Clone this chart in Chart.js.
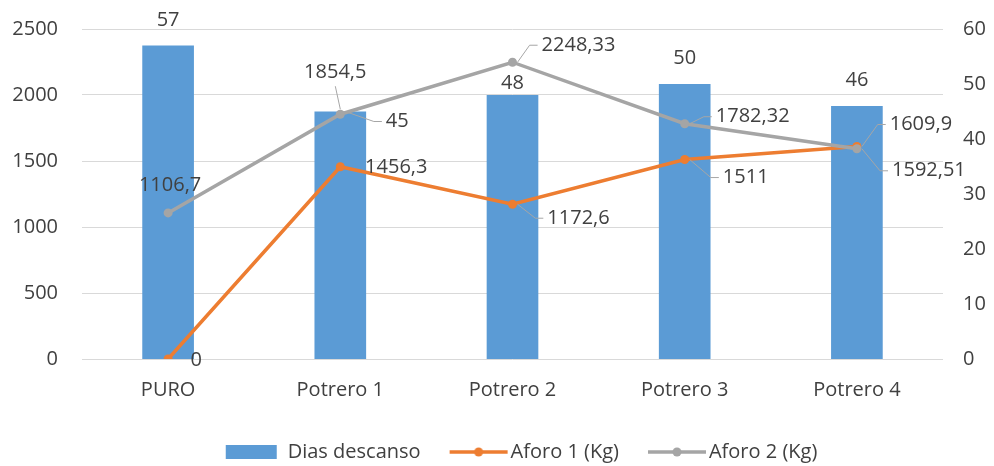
<!DOCTYPE html>
<html>
<head>
<meta charset="utf-8">
<script src="https://cdn.jsdelivr.net/npm/chart.js@4.4.0/dist/chart.umd.min.js"></script>
<style>
  html, body { margin: 0; padding: 0; background: #fff; overflow: hidden; }
  #wrap { width: 994px; height: 466px; }
</style>
</head>
<body>
<div id="wrap"><canvas id="chart"></canvas></div>
<script>
// data
const categories = ['PURO', 'Potrero 1', 'Potrero 2', 'Potrero 3', 'Potrero 4'];
const diasDescanso = [57, 45, 48, 50, 46];
const aforo1 = [0, 1456.3, 1172.6, 1511, 1609.9];
const aforo2 = [1106.7, 1854.5, 2248.33, 1782.32, 1592.51];
const leftTicks = [0, 500, 1000, 1500, 2000, 2500];
const rightTicks = [0, 10, 20, 30, 40, 50, 60];

const COLORS = { bar: '#5B9BD5', orange: '#ED7D31', grey: '#A5A5A5', text: '#404040', grid: '#D9D9D9', leader: '#A6A6A6' };
const FONT = { family: '"Open Sans", sans-serif', size: 20 };

// label offsets (dx, dy from the mark, leader line?) per dataset
const LABEL_POS = [
  [[0, -25, false], [57, 10, true], [0, -12, false], [0, -26, false], [0, -26, false]],
  [[28, 1, false], [56, 1, false], [66, 14, true], [61, 18, true], [64, -22, true]],
  [[2, -28, false], [-5, -42, true], [66, -17, true], [68, -7, true], [72, 22, true]],
];

function fmt(v) { return String(v).replace('.', ','); }

// legend icons: slot is 70px wide, image overhangs 8px each side so the
// mark can sit close to the text like Excel does
const SLOT = 70, OVER = 8;
function icon(kind, color) {
  const c = document.createElement('canvas');
  c.width = SLOT + OVER * 2; c.height = 16;
  const g = c.getContext('2d');
  if (kind === 'bar') {
    g.fillStyle = color;
    g.fillRect(OVER + SLOT - 52, 1, 51, 14);
  } else {
    const x0 = OVER + SLOT - 51, x1 = OVER + SLOT + 7;
    g.strokeStyle = color; g.lineWidth = 3.5;
    g.beginPath(); g.moveTo(x0, 8); g.lineTo(x1, 8); g.stroke();
    g.fillStyle = color;
    g.beginPath(); g.arc((x0 + x1) / 2, 8, 4.5, 0, Math.PI * 2); g.fill();
  }
  return c;
}
const LEGEND_ICONS = [icon('bar', COLORS.bar), icon('line', COLORS.orange), icon('line', COLORS.grey)];

const valueLabels = {
  id: 'valueLabels',
  afterDatasetsDraw(chart) {
    const ctx = chart.ctx;
    ctx.save();
    ctx.font = `${FONT.size}px ${FONT.family}`;
    ctx.textAlign = 'center';
    ctx.textBaseline = 'middle';
    chart.data.datasets.forEach((ds, i) => {
      const meta = chart.getDatasetMeta(i);
      meta.data.forEach((el, j) => {
        const [dx, dy, leader] = LABEL_POS[i][j];
        const text = fmt(ds.data[j]);
        const cx = el.x + dx, cy = el.y + dy;
        const w = ctx.measureText(text).width;
        if (leader) {
          ctx.strokeStyle = COLORS.leader;
          ctx.lineWidth = 1;
          ctx.beginPath();
          if (Math.abs(dx) > w / 2) {
            const side = dx > 0 ? 1 : -1;
            const ax = cx - side * (w / 2 + 4);
            ctx.moveTo(el.x + side * 5, el.y);
            ctx.lineTo(ax - side * 8, cy);
            ctx.lineTo(ax, cy);
          } else {
            const up = dy < 0 ? 1 : -1;
            ctx.moveTo(cx, cy + up * 14);
            ctx.lineTo(el.x, el.y - up * 5);
          }
          ctx.stroke();
        }
        ctx.fillStyle = COLORS.text;
        ctx.fillText(text, cx, cy);
      });
    });
    ctx.restore();
  }
};

new Chart(document.getElementById('chart'), {
  data: {
    labels: categories,
    datasets: [
      { type: 'bar', label: 'Dias descanso', data: diasDescanso, yAxisID: 'y1', backgroundColor: COLORS.bar,
        barPercentage: 0.3, categoryPercentage: 1, order: 3 },
      { type: 'line', label: 'Aforo 1 (Kg)', data: aforo1, yAxisID: 'y', borderColor: COLORS.orange, backgroundColor: COLORS.orange,
        borderWidth: 3.5, pointRadius: 4.5, pointBorderWidth: 0, tension: 0, order: 2 },
      { type: 'line', label: 'Aforo 2 (Kg)', data: aforo2, yAxisID: 'y', borderColor: COLORS.grey, backgroundColor: COLORS.grey,
        borderWidth: 3.5, pointRadius: 4.5, pointBorderWidth: 0, tension: 0, order: 1 },
    ],
  },
  options: {
    responsive: true,
    maintainAspectRatio: false,
    animation: false,
    devicePixelRatio: 1,
    layout: { padding: { top: 29, bottom: -6, left: 0, right: 0 } },
    plugins: {
      tooltip: { enabled: false },
      legend: {
        position: 'bottom',
        fullSize: false,
        labels: {
          usePointStyle: true, pointStyleWidth: SLOT, padding: 10, color: COLORS.text, font: FONT,
          generateLabels: (chart) => [0, 1, 2].map(i => ({
            text: chart.data.datasets[i].label, pointStyle: LEGEND_ICONS[i], datasetIndex: i,
            fontColor: COLORS.text, lineWidth: 0, hidden: false,
          })),
        },
      },
    },
    scales: {
      x: {
        offset: true,
        grid: { display: false, drawTicks: false }, border: { display: false },
        ticks: { padding: 19, color: COLORS.text, font: FONT },
        afterFit: (s) => { s.height = 73; },
      },
      // label gap comes from an invisible tick mark so it doesn't pad the top of the plot
      y: {
        position: 'left',
        min: leftTicks[0], max: leftTicks[leftTicks.length - 1],
        ticks: { stepSize: leftTicks[1] - leftTicks[0], padding: 0, color: COLORS.text, font: FONT, callback: (v) => String(v) },
        grid: { color: COLORS.grid, drawTicks: true, tickLength: 24, tickColor: 'rgba(0,0,0,0)' }, border: { display: false },
        afterFit: (s) => { s.width = 82; },
      },
      y1: {
        position: 'right',
        min: rightTicks[0], max: rightTicks[rightTicks.length - 1],
        ticks: { stepSize: rightTicks[1] - rightTicks[0], padding: 0, color: COLORS.text, font: FONT },
        grid: { display: false, drawTicks: true, tickLength: 20 }, border: { display: false },
        afterFit: (s) => { s.width = 51; },
      },
    },
  },
  plugins: [valueLabels],
});
</script>
</body>
</html>
